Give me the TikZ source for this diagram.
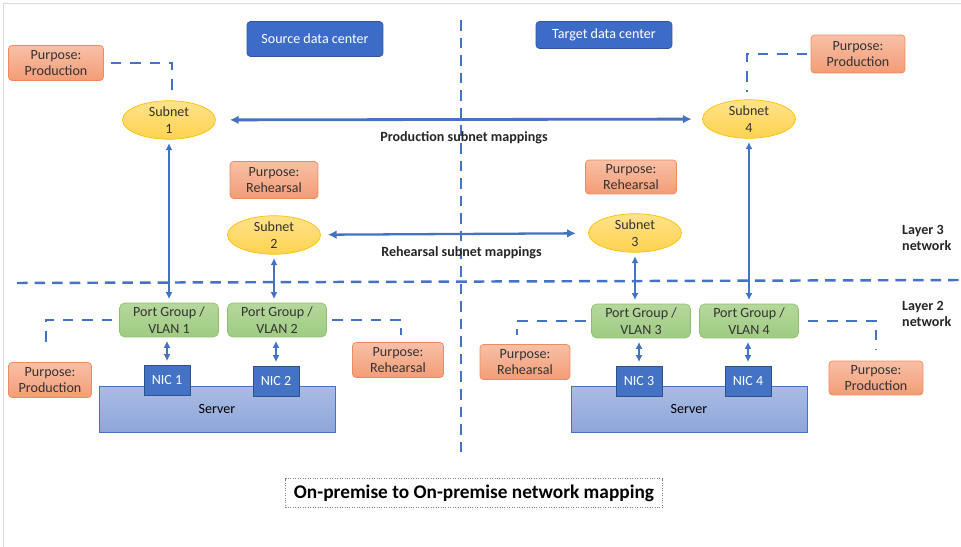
\documentclass[tikz,border=0pt]{standalone}
\usepackage{fontspec}
\setmainfont{Carlito}
\usepackage{tikz}
\usetikzlibrary{arrows.meta, shapes.geometric, positioning, calc}

\definecolor{linkblue}{HTML}{4472C4}
\definecolor{hdrblue}{HTML}{3C6CC8}
\definecolor{salmontop}{HTML}{F8C0A6}
\definecolor{salmonbot}{HTML}{F39C76}
\definecolor{salmonedge}{HTML}{F08A5D}
\definecolor{subtop}{HTML}{FFE28A}
\definecolor{subbot}{HTML}{FFD350}
\definecolor{subedge}{HTML}{FFC000}
\definecolor{pgtop}{HTML}{B5D89D}
\definecolor{pgbot}{HTML}{9FCB82}
\definecolor{pgedge}{HTML}{8CC06E}
\definecolor{srvtop}{HTML}{AABCE4}
\definecolor{srvbot}{HTML}{8EA6DA}

\begin{document}
\begin{tikzpicture}[x=0.02cm, y=-0.02cm, font=\fontsize{8}{9.5}\selectfont,
    header/.style={rectangle, rounded corners=2pt, fill=hdrblue, draw=hdrblue!80!black, text=white,
        minimum width=2.72cm, inner sep=0pt},
    purpose/.style={rectangle, rounded corners=2pt, top color=salmontop, bottom color=salmonbot,
        draw=salmonedge, text=black!80, minimum width=1.84cm, minimum height=0.7cm, inner sep=0pt,
        align=center},
    subnet/.style={ellipse, top color=subtop, bottom color=subbot, draw=subedge, minimum width=1.86cm,
        minimum height=0.77cm, inner sep=0pt, align=center, text=black!80},
    portgroup/.style={rectangle, rounded corners=3pt, top color=pgtop, bottom color=pgbot, draw=pgedge,
        minimum width=1.98cm, minimum height=0.68cm, inner sep=0pt, align=center, text=black!80},
    nic/.style={rectangle, fill=linkblue, draw=linkblue!70!black, text=white, minimum width=0.92cm,
        minimum height=0.6cm, inner sep=0pt},
    server/.style={rectangle, top color=srvtop, bottom color=srvbot, draw=linkblue, minimum width=4.72cm,
        minimum height=0.92cm, inner sep=0pt, text=black!80},
    mapping/.style={{Latex[length=5pt,width=5pt]}-{Latex[length=5pt,width=5pt]}, linkblue, line width=1.6pt},
    uplink/.style={{Latex[length=4pt,width=4pt]}-{Latex[length=4pt,width=4pt]}, linkblue, line width=1pt},
    tag/.style={linkblue, line width=1pt, dash pattern=on 6pt off 5pt},
    divider/.style={linkblue, line width=1.4pt, dash pattern=on 6pt off 4pt},
    layer/.style={font=\fontsize{8}{9.5}\selectfont\bfseries, align=left, text=black!85},
    maplabel/.style={font=\fontsize{8}{9.5}\selectfont\bfseries, text=black!85}]

\useasboundingbox (0,0) rectangle (961,547);
\draw[black!15, line width=1pt] (3.5,547) -- (3.5,3.5) -- (961,3.5);

% separators
\coordinate (vtop) at (461,20);
\coordinate (vbot) at (461,452);
\coordinate (hleft) at (17,283);
\coordinate (hright) at (961,280);
\draw[divider] (vtop) -- (vbot);
\draw[divider] (hleft) -- (hright);

% data centers
\node[header, minimum height=0.7cm] (src) at (315,39) {Source data center};
\node[header, minimum height=0.54cm] (tgt) at (604,35) {Target data center};

% subnets
\node[subnet] (sub1) at (169,120) {Subnet\\1};
\node[subnet] (sub2) at (274,235) {Subnet\\2};
\node[subnet] (sub3) at (635,233) {Subnet\\3};
\node[subnet] (sub4) at (749,119) {Subnet\\4};

% purpose tags
\node[purpose, minimum width=1.9cm] (pprodA) at (56,63) {Purpose:\\Production};
\node[purpose, minimum width=1.88cm, minimum height=0.76cm] (pprodB) at (858,54) {Purpose:\\Production};
\node[purpose, minimum width=1.76cm, minimum height=0.74cm] (prehA) at (274,180) {Purpose:\\Rehearsal};
\node[purpose, minimum width=1.82cm, minimum height=0.68cm] (prehB) at (631,177) {Purpose:\\Rehearsal};
\node[purpose, minimum width=1.66cm] (pprodC) at (50,380) {Purpose:\\Production};
\node[purpose, minimum width=1.82cm] (prehC) at (398,360) {Purpose:\\Rehearsal};
\node[purpose, minimum width=1.8cm] (prehD) at (525,362) {Purpose:\\Rehearsal};
\node[purpose, minimum width=1.88cm, minimum height=0.68cm] (pprodD) at (876,378) {Purpose:\\Production};

% port groups
\node[portgroup] (pg1) at (169,320) {Port Group /\\VLAN 1};
\node[portgroup] (pg2) at (277,320) {Port Group /\\VLAN 2};
\node[portgroup] (pg3) at (641,321) {Port Group /\\VLAN 3};
\node[portgroup] (pg4) at (749,321) {Port Group /\\VLAN 4};

% servers and NICs
\node[server] (srvA) at (217,409) {};
\node[server] (srvB) at (689,409) {};
\node at (217,409) {Server};
\node at (689,409) {Server};
\node[nic] (nic1) at (167,380) {NIC 1};
\node[nic] (nic2) at (276,381) {NIC 2};
\node[nic] (nic3) at (639,381) {NIC 3};
\node[nic] (nic4) at (748,381) {NIC 4};

% layer labels
\node[layer, anchor=west] (l3) at (896,238) {Layer 3\\network};
\node[layer, anchor=west] (l2) at (896,314) {Layer 2\\network};

% mappings
\draw[mapping, shorten <=8pt, shorten >=6pt] (sub1) -- node[below=3pt, maplabel, xshift=0.1cm] (prodlbl) {Production subnet mappings} (sub4);
\draw[mapping, line width=1.3pt, shorten <=4pt, shorten >=7pt] (sub2) -- node[below=3pt, maplabel, xshift=0.14cm] (rehlbl) {Rehearsal subnet mappings} (sub3);

\path[uplink, shorten <=2pt, shorten >=2pt]
    (sub1) edge (pg1)
    (sub2.south) edge (pg2.north -| sub2.south)
    (sub3.south) edge (sub3.south |- pg3.north)
    (sub4) edge (sub4 |- pg4.north)
    (pg1.south -| nic1.north) edge (nic1)
    (pg2.south -| nic2.north) edge (nic2)
    (pg3.south -| nic3.north) edge (nic3)
    (pg4.south -| nic4.north) edge (nic4);

% purpose links
\draw[tag, shorten <=4pt, shorten >=6pt] (pprodA.east) -| ([xshift=0.06cm]sub1.north);
\draw[tag, shorten <=2pt, shorten >=4pt] (pprodB.west) -| ([xshift=-0.04cm]sub4.north);
\draw[tag, shorten <=4pt, shorten >=8pt] (pg1.west) -| ([xshift=-0.08cm]pprodC.north);
\draw[tag, shorten <=3pt, shorten >=4pt] (pg2.east) -| ([xshift=0.06cm]prehC.north);
\draw[tag, shorten <=3pt, shorten >=5pt] (pg3.west) -| ([xshift=-0.16cm]prehD.north);
\draw[tag, shorten <=5pt, shorten >=6pt] (pg4.east) -| (pprodD.north);

% caption
\node[draw=black!50, densely dotted, minimum width=7.54cm, minimum height=0.58cm, inner sep=0pt,
    font=\fontsize{11}{13}\selectfont\bfseries] (caption) at (474,493) {On-premise to On-premise network mapping};
\end{tikzpicture}
\end{document}
